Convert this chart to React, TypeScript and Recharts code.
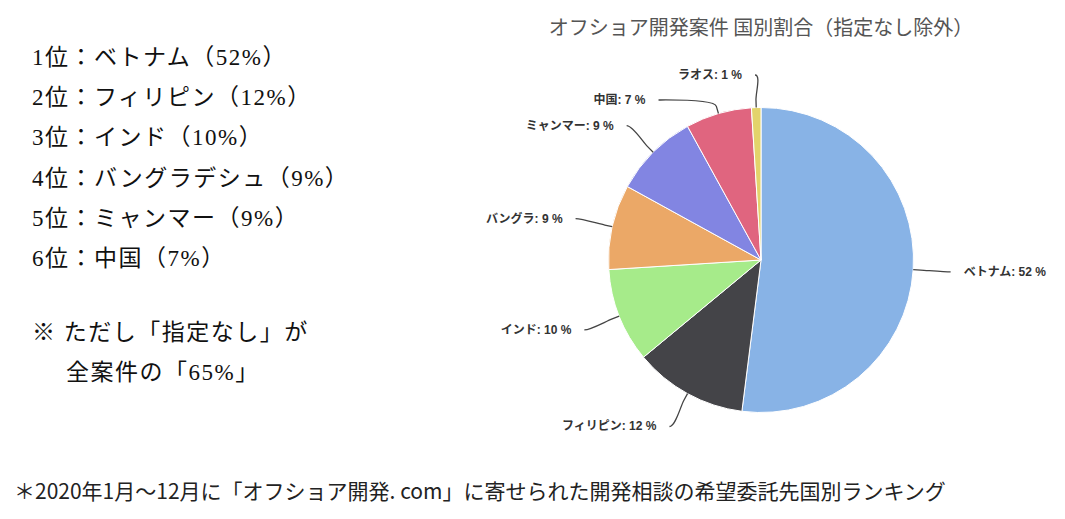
import { PieChart, Pie, Cell } from "recharts";

const countries = ["ベトナム", "フィリピン", "インド", "バングラ", "ミャンマー", "中国", "ラオス"];
const shares = [52, 12, 10, 9, 9, 7, 1];
const colors = ["#88b3e6", "#444448", "#a6eb8a", "#eba867", "#8285e2", "#e0657f", "#e3d36b"];

const rankingLines = [
  "1位：ベトナム（52%）",
  "2位：フィリピン（12%）",
  "3位：インド（10%）",
  "4位：バングラデシュ（9%）",
  "5位：ミャンマー（9%）",
  "6位：中国（7%）",
];
const noteLines = ["※ ただし「指定なし」が", "全案件の「65%」"];
const title = "オフショア開発案件 国別割合（指定なし除外）";
const footnote =
  "＊2020年1月〜12月に「オフショア開発. com」に寄せられた開発相談の希望委託先国別ランキング";

const data = countries.map((name, i) => ({ name, value: shares[i] }));

// pie geometry
const CX = 761;
const CY = 260;
const R = 152.5;
const DIST = 37.5; // label distance from the pie edge
const BREAK = 7.5;
const PAD = 13;
const LINE_H = 25;
const LABEL_TOP = 75;

// highcharts-like label placement: natural position, then push down to avoid overlap
function layoutLabels() {
  const total = shares.reduce((a, b) => a + b, 0);
  let acc = 0;
  const pts = shares.map((v, i) => {
    const mid = ((90 - ((acc + v / 2) / total) * 360) * Math.PI) / 180;
    acc += v;
    const cos = Math.cos(mid);
    const sin = -Math.sin(mid);
    return { i, cos, sin, left: cos < 0, naturalY: CY + sin * (R + DIST), y: 0, x: 0 };
  });
  [true, false].forEach((side) => {
    const group = pts.filter((p) => p.left === side).sort((a, b) => a.naturalY - b.naturalY);
    let prev = -Infinity;
    group.forEach((p) => {
      p.y = Math.max(p.naturalY, prev + LINE_H, LABEL_TOP);
      prev = p.y;
    });
  });
  pts.forEach((p) => {
    const rr = R + DIST;
    let dy = p.y - CY;
    if (Math.abs(dy) > rr - 12) dy = p.naturalY - CY;
    const dx = Math.sqrt(Math.max(0, rr * rr - dy * dy));
    p.x = CX + (p.left ? -dx : dx);
  });
  return pts.sort((a, b) => a.i - b.i);
}

const labelPos = layoutLabels();

function renderLabel(props: any) {
  const { index, name, value } = props;
  const p = labelPos[index];
  const tx = CX + R * p.cos;
  const ty = CY + R * p.sin;
  const bx = CX + (R + BREAK) * p.cos;
  const by = CY + (R + BREAK) * p.sin;
  const path = `M ${p.x} ${p.y} C ${p.x + (p.left ? 6 : -6)} ${p.y} ${2 * bx - tx} ${2 * by - ty} ${bx} ${by} L ${tx} ${ty}`;
  return (
    <g key={`lbl-${index}`}>
      <path d={path} fill="none" stroke="#444" strokeWidth={1.3} />
      <text
        x={p.left ? p.x - PAD : p.x + PAD}
        y={p.y}
        textAnchor={p.left ? "end" : "start"}
        dominantBaseline="central"
        fontSize={12}
        fontWeight="bold"
        fill="#333"
        fontFamily='"Liberation Sans", "Noto Sans CJK JP", sans-serif'
      >
        {`${name}: ${value} %`}
      </text>
    </g>
  );
}

const leftText = {
  fontFamily: '"Liberation Serif", "Noto Sans CJK JP", serif',
  fontSize: 23,
  letterSpacing: "1.5px",
  color: "#111",
  whiteSpace: "nowrap" as const,
};

export default function App() {
  return (
    <div
      style={{
        position: "absolute",
        left: 0,
        top: 0,
        width: 1065,
        height: 519,
        background: "#fff",
        overflow: "hidden",
      }}
    >
      <div style={{ position: "absolute", left: 0, top: 0 }}>
        <PieChart width={1065} height={519} margin={{ top: 0, right: 0, bottom: 0, left: 0 }}>
          <Pie
            data={data}
            dataKey="value"
            nameKey="name"
            cx={CX}
            cy={CY}
            outerRadius={R}
            startAngle={90}
            endAngle={-270}
            stroke="#fff"
            strokeWidth={1}
            label={renderLabel}
            labelLine={false}
            isAnimationActive={false}
          >
            {data.map((_, i) => (
              <Cell key={`cell-${i}`} fill={colors[i]} />
            ))}
          </Pie>
        </PieChart>
      </div>

      <div
        style={{
          position: "absolute",
          left: 461,
          width: 600,
          top: 14,
          textAlign: "center",
          fontFamily: '"Noto Sans CJK JP", sans-serif',
          fontSize: 20,
          lineHeight: "26px",
          color: "#555",
          whiteSpace: "nowrap",
        }}
      >
        {title}
      </div>

      <div style={{ position: "absolute", left: 32, top: 38, lineHeight: "40.2px", ...leftText }}>
        {rankingLines.map((l) => (
          <div key={l}>{l}</div>
        ))}
      </div>

      <div style={{ position: "absolute", left: 32, top: 313, lineHeight: "40px", ...leftText }}>
        <div>{noteLines[0]}</div>
        <div style={{ paddingLeft: 34 }}>{noteLines[1]}</div>
      </div>

      <div
        style={{
          position: "absolute",
          left: 14,
          top: 476,
          fontFamily: '"Noto Sans CJK JP", sans-serif',
          fontSize: 21,
          lineHeight: "28px",
          color: "#222",
          whiteSpace: "nowrap",
        }}
      >
        {footnote}
      </div>
    </div>
  );
}
